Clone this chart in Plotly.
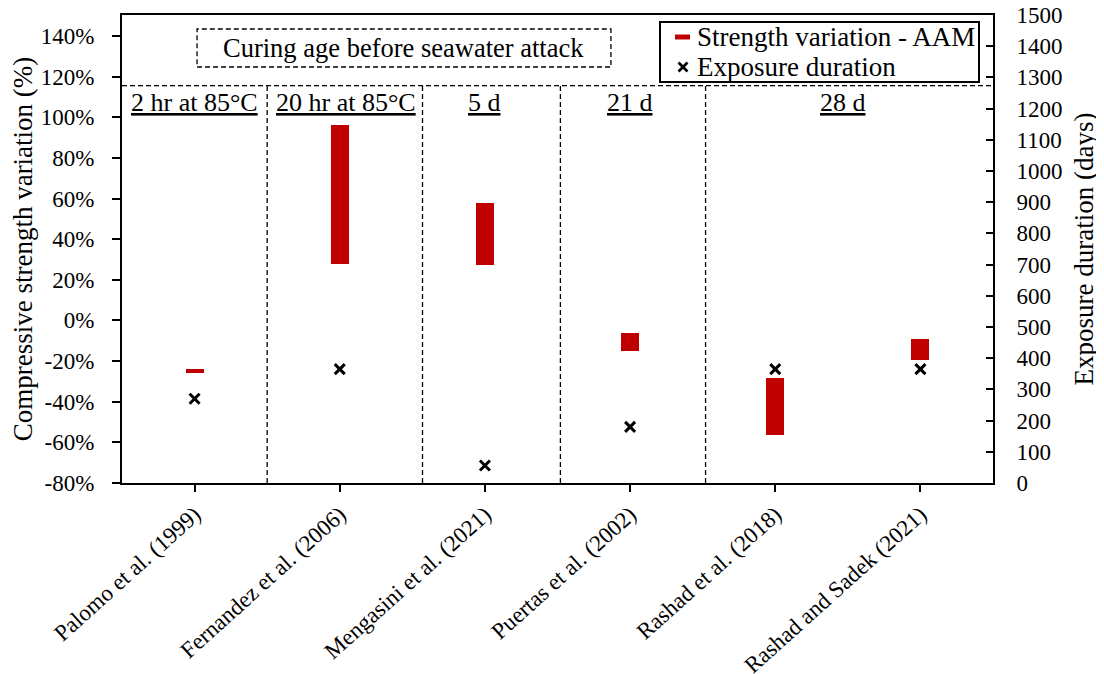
import plotly.graph_objects as go

categories = ["Palomo et al. (1999)", "Fernandez et al. (2006)", "Mengasini et al. (2021)",
              "Puertas et al. (2002)", "Rashad et al. (2018)", "Rashad and Sadek (2021)"]
strength_low = [-26.0, 27.8, 27.3, -15.2, -56.2, -19.6]
strength_high = [-23.7, 96.2, 57.9, -6.0, -28.2, -9.1]
exposure_days = [270, 365, 56, 180, 365, 365]
left_ticks = [-80, -60, -40, -20, 0, 20, 40, 60, 80, 100, 120, 140]
left_tick_text = [f"{v}%" for v in left_ticks]
right_ticks = list(range(0, 1501, 100))
section_labels = ["2 hr at 85°C", "20 hr at 85°C", "5 d", "21 d", "28 d"]
section_label_x = [0, 1.04, 2, 3, 4.47]
divider_x = [0.5, 1.57, 2.52, 3.52]
legend_names = ["Strength variation - AAM", "Exposure duration"]

FONT = "Liberation Serif"
RED = "#C00000"
DASH = "5px,3px"

OFF = 8  # page body margin
W, H = 1104 - OFF, 674 - OFF
# plot area in page pixels
L, R, T, B = 122, 993, 15, 483


def px(xp):
    return (xp - L) / (R - L)


def py(yp):
    return 1 - (yp - T) / (B - T)


fig = go.Figure()
fig.add_trace(go.Bar(
    x=categories, y=[h - l for h, l in zip(strength_high, strength_low)], base=strength_low,
    width=0.125, marker=dict(color=RED, line=dict(width=0)), showlegend=False,
    name=legend_names[0]))
fig.add_trace(go.Scatter(
    x=categories, y=exposure_days, mode="markers", name=legend_names[1], yaxis="y2",
    showlegend=False,
    marker=dict(symbol="x-thin", size=10, line=dict(color="black", width=3), color="black")))

shapes = []
shapes.append(dict(type="line", xref="x domain", yref="y", x0=0, x1=1, y0=115.5, y1=115.5,
                   line=dict(color="black", width=1.3, dash=DASH)))
for xd in divider_x:
    shapes.append(dict(type="line", xref="x", yref="y", x0=xd, x1=xd, y0=-80, y1=115.5,
                       line=dict(color="black", width=1.3, dash=DASH)))
shapes.append(dict(type="rect", xref="x", yref="y", x0=0.017, x1=2.868, y0=124.7, y1=143.4,
                   line=dict(color="black", width=1.3, dash=DASH), fillcolor="rgba(0,0,0,0)"))

# manual legend
shapes.append(dict(type="rect", xref="paper", yref="paper", x0=px(660), x1=px(979),
                   y0=py(82), y1=py(22), line=dict(color="black", width=2), fillcolor="white"))
shapes.append(dict(type="line", xref="paper", yref="paper", x0=px(675), x1=px(690),
                   y0=py(37), y1=py(37), line=dict(color=RED, width=5)))
shapes.append(dict(type="line", xref="paper", yref="paper", x0=px(678.5), x1=px(687.5),
                   y0=py(62.5), y1=py(71.5), line=dict(color="black", width=2.6)))
shapes.append(dict(type="line", xref="paper", yref="paper", x0=px(678.5), x1=px(687.5),
                   y0=py(71.5), y1=py(62.5), line=dict(color="black", width=2.6)))

annotations = [dict(text="Curing age before seawater attack", xref="x", yref="y",
                    x=1.44, y=134.0, showarrow=False,
                    font=dict(family=FONT, size=26.5, color="black"))]
for lbl, xp in zip(section_labels, section_label_x):
    annotations.append(dict(text="<u>" + lbl + "</u>", xref="x", yref="y", x=xp, y=107.2,
                            showarrow=False, font=dict(family=FONT, size=26, color="black")))
for name, yp in zip(legend_names, [37, 67]):
    annotations.append(dict(text=name, xref="paper", yref="paper", x=px(695), y=py(yp),
                            xanchor="left", yanchor="middle", showarrow=False,
                            font=dict(family=FONT, size=27, color="black")))

fig.update_layout(
    width=W, height=H,
    margin=dict(l=L - OFF, r=W - (R - OFF), t=T - OFF, b=H - (B - OFF)),
    paper_bgcolor="white", plot_bgcolor="white",
    font=dict(family=FONT, color="black", size=22),
    shapes=shapes, annotations=annotations, showlegend=False,
    xaxis=dict(type="category", range=[-0.5, 5.5], showline=True, linecolor="black", linewidth=2,
               mirror=True, ticks="outside", ticklen=7, tickwidth=2, tickcolor="black",
               tickangle=-42, tickfont=dict(family=FONT, size=23), showgrid=False,
               automargin=False),
    yaxis=dict(range=[-80, 150.3], tickvals=left_ticks, ticktext=left_tick_text, showline=True,
               linecolor="black", linewidth=2, ticks="outside", ticklen=8, tickwidth=2,
               tickcolor="black", showgrid=False, zeroline=False, automargin=False,
               ticklabelstandoff=13,
               title=dict(text="Compressive strength variation (%)",
                          font=dict(family=FONT, size=27), standoff=5),
               tickfont=dict(family=FONT, size=23)),
    yaxis2=dict(range=[0, 1500], tickvals=right_ticks, overlaying="y", side="right",
                showline=True, linecolor="black", linewidth=2, ticks="inside", ticklen=7,
                tickwidth=2, tickcolor="black", showgrid=False, zeroline=False,
                ticklabelstandoff=17, automargin=False, ticklabeloverflow="allow",
                title=dict(text="Exposure duration (days)", font=dict(family=FONT, size=27),
                           standoff=13),
                tickfont=dict(family=FONT, size=23)),
    bargap=0,
)

fig.write_html("out.html")
